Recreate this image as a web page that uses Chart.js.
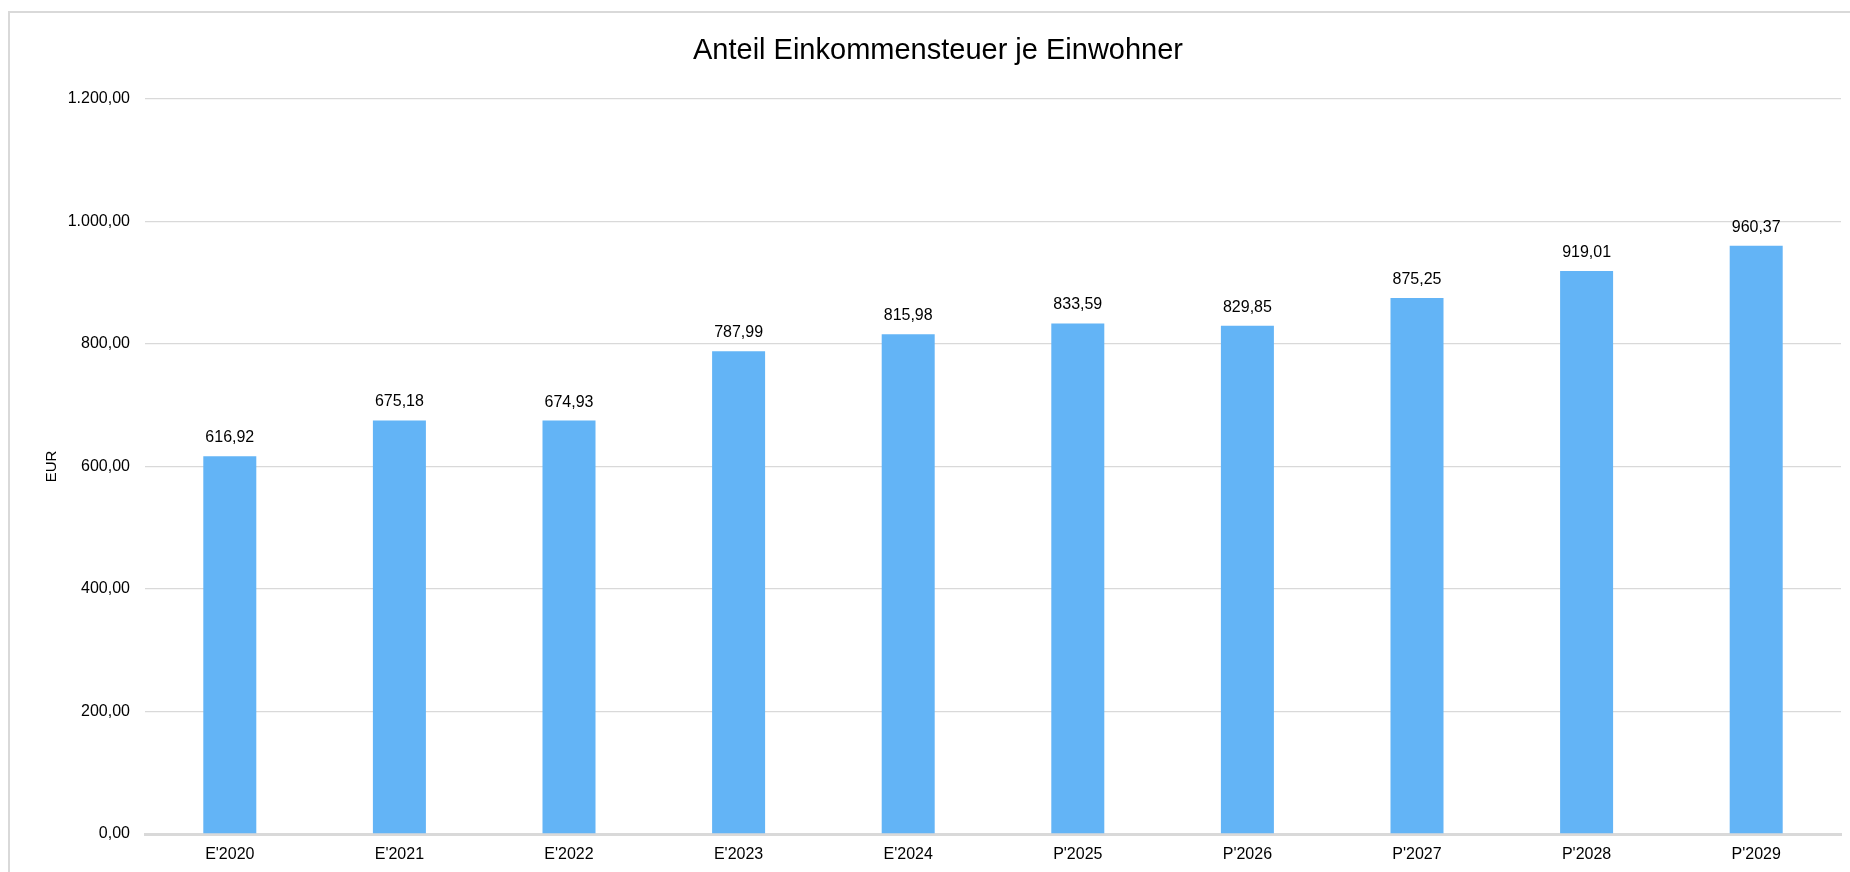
<!DOCTYPE html>
<html>
<head>
<meta charset="utf-8">
<script src="https://cdn.jsdelivr.net/npm/chart.js@4/dist/chart.umd.min.js"></script>
<style>
  html, body { margin: 0; padding: 0; background: #ffffff; }
  #wrap { position: absolute; left: 0; top: 0; width: 1850px; height: 872px; }
</style>
</head>
<body>
<div id="wrap"><canvas id="c" width="1850" height="872"></canvas></div>
<script>
const chartTitle = "Anteil Einkommensteuer je Einwohner";
const yAxisTitle = "EUR";
const categories = ["E'2020", "E'2021", "E'2022", "E'2023", "E'2024", "P'2025", "P'2026", "P'2027", "P'2028", "P'2029"];
const values = [616.92, 675.18, 674.93, 787.99, 815.98, 833.59, 829.85, 875.25, 919.01, 960.37];
const yTickValues = [0, 200, 400, 600, 800, 1000, 1200];
const yTickLabels = ["0,00", "200,00", "400,00", "600,00", "800,00", "1.000,00", "1.200,00"];

const FONT = '"Liberation Sans", Arial, "DejaVu Sans", sans-serif';
const fmt = v => v.toLocaleString('de-DE', { minimumFractionDigits: 2, maximumFractionDigits: 2 });

const frame = {
  id: 'frame',
  beforeDraw(chart) {
    const ctx = chart.ctx;
    ctx.save();
    ctx.fillStyle = '#ffffff';
    ctx.fillRect(0, 0, chart.width, chart.height);
    ctx.fillStyle = '#d9d9d9';
    ctx.fillRect(8, 11, 2, chart.height - 11);
    ctx.fillRect(8, 11, chart.width - 8, 2);
    ctx.restore();
  }
};

const titlePlugin = {
  id: 'chartTitle',
  afterDraw(chart) {
    const ctx = chart.ctx;
    ctx.save();
    ctx.font = '29px ' + FONT;
    ctx.fillStyle = '#000000';
    ctx.textAlign = 'center';
    ctx.textBaseline = 'alphabetic';
    ctx.fillText(chartTitle, 938, 59);
    ctx.restore();
  }
};

const dataLabels = {
  id: 'dataLabels',
  afterDatasetsDraw(chart) {
    const ctx = chart.ctx;
    const meta = chart.getDatasetMeta(0);
    ctx.save();
    ctx.font = '16px ' + FONT;
    ctx.fillStyle = '#000000';
    ctx.textAlign = 'center';
    ctx.textBaseline = 'alphabetic';
    meta.data.forEach((bar, i) => {
      ctx.fillText(fmt(values[i]), bar.x, bar.y - 14);
    });
    ctx.restore();
  }
};

new Chart(document.getElementById('c'), {
  type: 'bar',
  data: {
    labels: categories,
    datasets: [{
      data: values,
      backgroundColor: '#63b4f6',
      borderWidth: 0,
      categoryPercentage: 1.0,
      barPercentage: 0.3125
    }]
  },
  options: {
    responsive: false,
    animation: false,
    devicePixelRatio: 1,
    layout: { padding: { left: 10, right: 9, top: 99, bottom: 8 } },
    plugins: {
      legend: { display: false },
      title: { display: false },
      tooltip: { enabled: false }
    },
    scales: {
      x: {
        grid: { display: false, drawTicks: false },
        border: { display: true, color: '#d9d9d9', width: 3 },
        ticks: { color: '#000000', font: { family: FONT, size: 16 }, padding: 11, maxRotation: 0 },
        afterFit(scale) { scale.height = 30; }
      },
      y: {
        min: 0,
        max: 1200,
        afterBuildTicks(scale) { scale.ticks = yTickValues.map(v => ({ value: v })); },
        grid: { color: '#d9d9d9', lineWidth: 1.3, drawTicks: false },
        border: { display: false },
        ticks: {
          color: '#000000',
          font: { family: FONT, size: 16 },
          padding: 15,
          callback: (v) => yTickLabels[yTickValues.indexOf(v)]
        },
        title: {
          display: true,
          text: yAxisTitle,
          color: '#000000',
          font: { family: FONT, size: 15 },
          padding: { top: 33, bottom: 0 }
        },
        afterFit(scale) { scale.width = 135; }
      }
    }
  },
  plugins: [frame, dataLabels, titlePlugin]
});
</script>
</body>
</html>
